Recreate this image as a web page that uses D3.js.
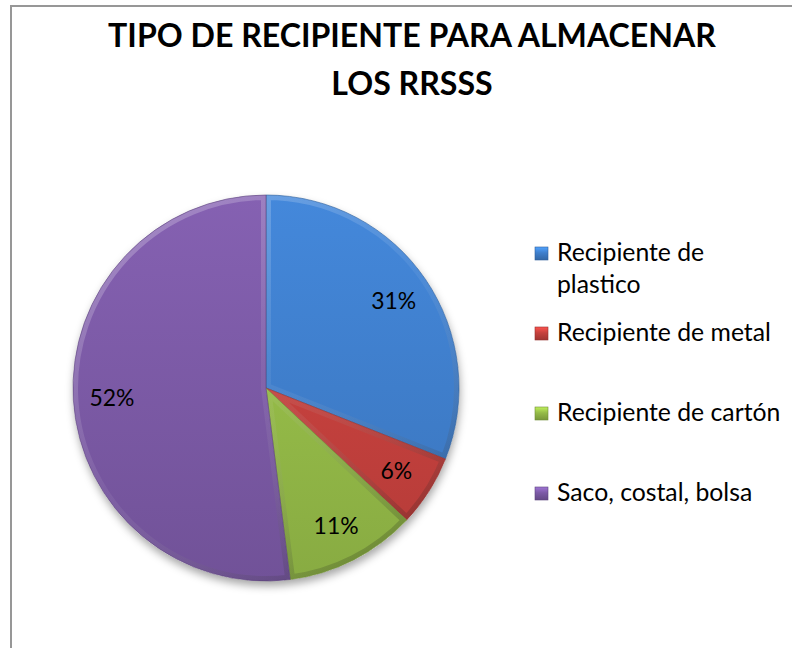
<!DOCTYPE html>
<html>
<head>
<meta charset="utf-8">
<script src="https://cdn.jsdelivr.net/npm/d3@7"></script>
<style>
  body { margin: 0; background: #fff; }
  svg { display: block; font-family: Lato, "Open Sans", sans-serif; }
</style>
</head>
<body>
<svg id="chart" width="792" height="648"></svg>
<script>
// chart data
var titleLines = ["TIPO DE RECIPIENTE PARA ALMACENAR", "LOS RRSSS"];
var categories = ["Recipiente de plastico", "Recipiente de metal", "Recipiente de cartón", "Saco, costal, bolsa"];
var values = [31, 6, 11, 52];
var colors = ["#3f7fcc", "#c5413d", "#95bb48", "#7c5aa6"];

var width = 792, height = 648;
var cx = 266, cy = 388, radius = 193;

var svg = d3.select("#chart");
var defs = svg.append("defs");

// measure helper so the fallback font fills the same width as the original
function fitSize(text, weight, target) {
  var t = svg.append("text").attr("font-size", 100).attr("font-weight", weight).text(text);
  var w = t.node().getComputedTextLength();
  t.remove();
  return 100 * target / w;
}

// chart border
svg.append("rect")
  .attr("x", 11).attr("y", 6)
  .attr("width", 820).attr("height", 700)
  .attr("fill", "#fff")
  .attr("stroke", "#979797")
  .attr("stroke-width", 2);

// title
var titleSize = fitSize(titleLines[0], "bold", 608);
svg.append("g").selectAll("text")
  .data(titleLines)
  .enter().append("text")
    .attr("x", 412)
    .attr("y", function(d, i){ return 47 + i * 48; })
    .attr("text-anchor", "middle")
    .attr("font-weight", "bold")
    .attr("font-size", titleSize)
    .attr("fill", "#000")
    .text(function(d){ return d; });

// gradients (pie group space is centred on 0,0)
colors.forEach(function(c, i){
  var g = defs.append("linearGradient")
    .attr("id", "fill" + i)
    .attr("gradientUnits", "userSpaceOnUse")
    .attr("x1", 0).attr("y1", -radius)
    .attr("x2", 0).attr("y2", radius);
  g.append("stop").attr("offset", "0%").attr("stop-color", d3.color(c).brighter(0.2));
  g.append("stop").attr("offset", "100%").attr("stop-color", d3.color(c).darker(0.25));

  var lg = defs.append("linearGradient")
    .attr("id", "leg" + i)
    .attr("x1", 0).attr("y1", 0).attr("x2", 0).attr("y2", 1);
  lg.append("stop").attr("offset", "0%").attr("stop-color", d3.color(c).brighter(0.7));
  lg.append("stop").attr("offset", "45%").attr("stop-color", c);
  lg.append("stop").attr("offset", "100%").attr("stop-color", d3.color(c).darker(0.6));
});

var bevel = defs.append("linearGradient")
  .attr("id", "bevel")
  .attr("gradientUnits", "userSpaceOnUse")
  .attr("x1", -radius).attr("y1", -radius)
  .attr("x2", radius * 0.4).attr("y2", radius);
bevel.append("stop").attr("offset", "0%").attr("stop-color", "#fff").attr("stop-opacity", 0.3);
bevel.append("stop").attr("offset", "55%").attr("stop-color", "#fff").attr("stop-opacity", 0.06);
bevel.append("stop").attr("offset", "100%").attr("stop-color", "#000").attr("stop-opacity", 0.2);

var shadow = defs.append("filter")
  .attr("id", "shadow")
  .attr("x", "-20%").attr("y", "-20%").attr("width", "140%").attr("height", "140%");
shadow.append("feDropShadow")
  .attr("dx", 1).attr("dy", 5)
  .attr("stdDeviation", 4)
  .attr("flood-color", "#000")
  .attr("flood-opacity", 0.35);

// pie
var pie = d3.pie().sort(null).value(function(d){ return d; });
var arcs = pie(values);
var arc = d3.arc().innerRadius(0).outerRadius(radius);
var labelArc = d3.arc().innerRadius(radius * 0.8).outerRadius(radius * 0.8);

var pieGroup = svg.append("g")
  .attr("transform", "translate(" + cx + "," + cy + ")");

// shadow under the whole pie
pieGroup.append("circle")
  .attr("r", radius)
  .attr("fill", "#fff")
  .attr("filter", "url(#shadow)");

arcs.forEach(function(a, i){
  defs.append("clipPath")
    .attr("id", "clip" + i)
    .append("path").attr("d", arc(a));
});

var slices = pieGroup.selectAll("g.slice")
  .data(arcs)
  .enter().append("g")
    .attr("class", "slice");

slices.append("path")
  .attr("d", arc)
  .attr("fill", function(d, i){ return "url(#fill" + i + ")"; });

// soft inner rim per slice (bevel look)
slices.append("path")
  .attr("d", arc)
  .attr("fill", "none")
  .attr("stroke", "url(#bevel)")
  .attr("stroke-width", 10)
  .attr("clip-path", function(d, i){ return "url(#clip" + i + ")"; });

// thin dark separators
slices.append("path")
  .attr("d", arc)
  .attr("fill", "none")
  .attr("stroke", function(d, i){ return d3.color(colors[i]).darker(0.8); })
  .attr("stroke-opacity", 0.6)
  .attr("stroke-width", 1);

// percentage labels
var labelSize = fitSize("31%", "normal", 45);
pieGroup.selectAll("text.pct")
  .data(arcs)
  .enter().append("text")
    .attr("class", "pct")
    .attr("x", function(d){ return labelArc.centroid(d)[0]; })
    .attr("y", function(d){ return labelArc.centroid(d)[1]; })
    .attr("dy", "0.35em")
    .attr("text-anchor", "middle")
    .attr("font-size", labelSize)
    .attr("fill", "#000")
    .text(function(d){ return d.data + "%"; });

// legend
var legendSize = fitSize("Recipiente de metal", "normal", 214);
var legendY = d3.scaleLinear().domain([0, 3]).range([261, 501]);
var legend = svg.append("g").attr("class", "legend");

categories.forEach(function(name, i){
  var y = legendY(i);
  legend.append("rect")
    .attr("x", 535).attr("y", y - 14)
    .attr("width", 13).attr("height", 13)
    .attr("fill", "url(#leg" + i + ")")
    .attr("stroke", d3.color(colors[i]).darker(0.8))
    .attr("stroke-width", 0.6);

  // wrap long names the way the original legend does
  var words = name.split(" ");
  var lines = [], line = "";
  var probe = legend.append("text").attr("font-size", legendSize);
  words.forEach(function(w){
    var test = line ? line + " " + w : w;
    probe.text(test);
    if (probe.node().getComputedTextLength() > 225 && line) {
      lines.push(line);
      line = w;
    } else {
      line = test;
    }
  });
  lines.push(line);
  probe.remove();

  legend.selectAll(null)
    .data(lines)
    .enter().append("text")
      .attr("x", 557)
      .attr("y", function(d, j){ return y + j * 32; })
      .attr("font-size", legendSize)
      .attr("fill", "#000")
      .text(function(d){ return d; });
});
</script>
</body>
</html>
